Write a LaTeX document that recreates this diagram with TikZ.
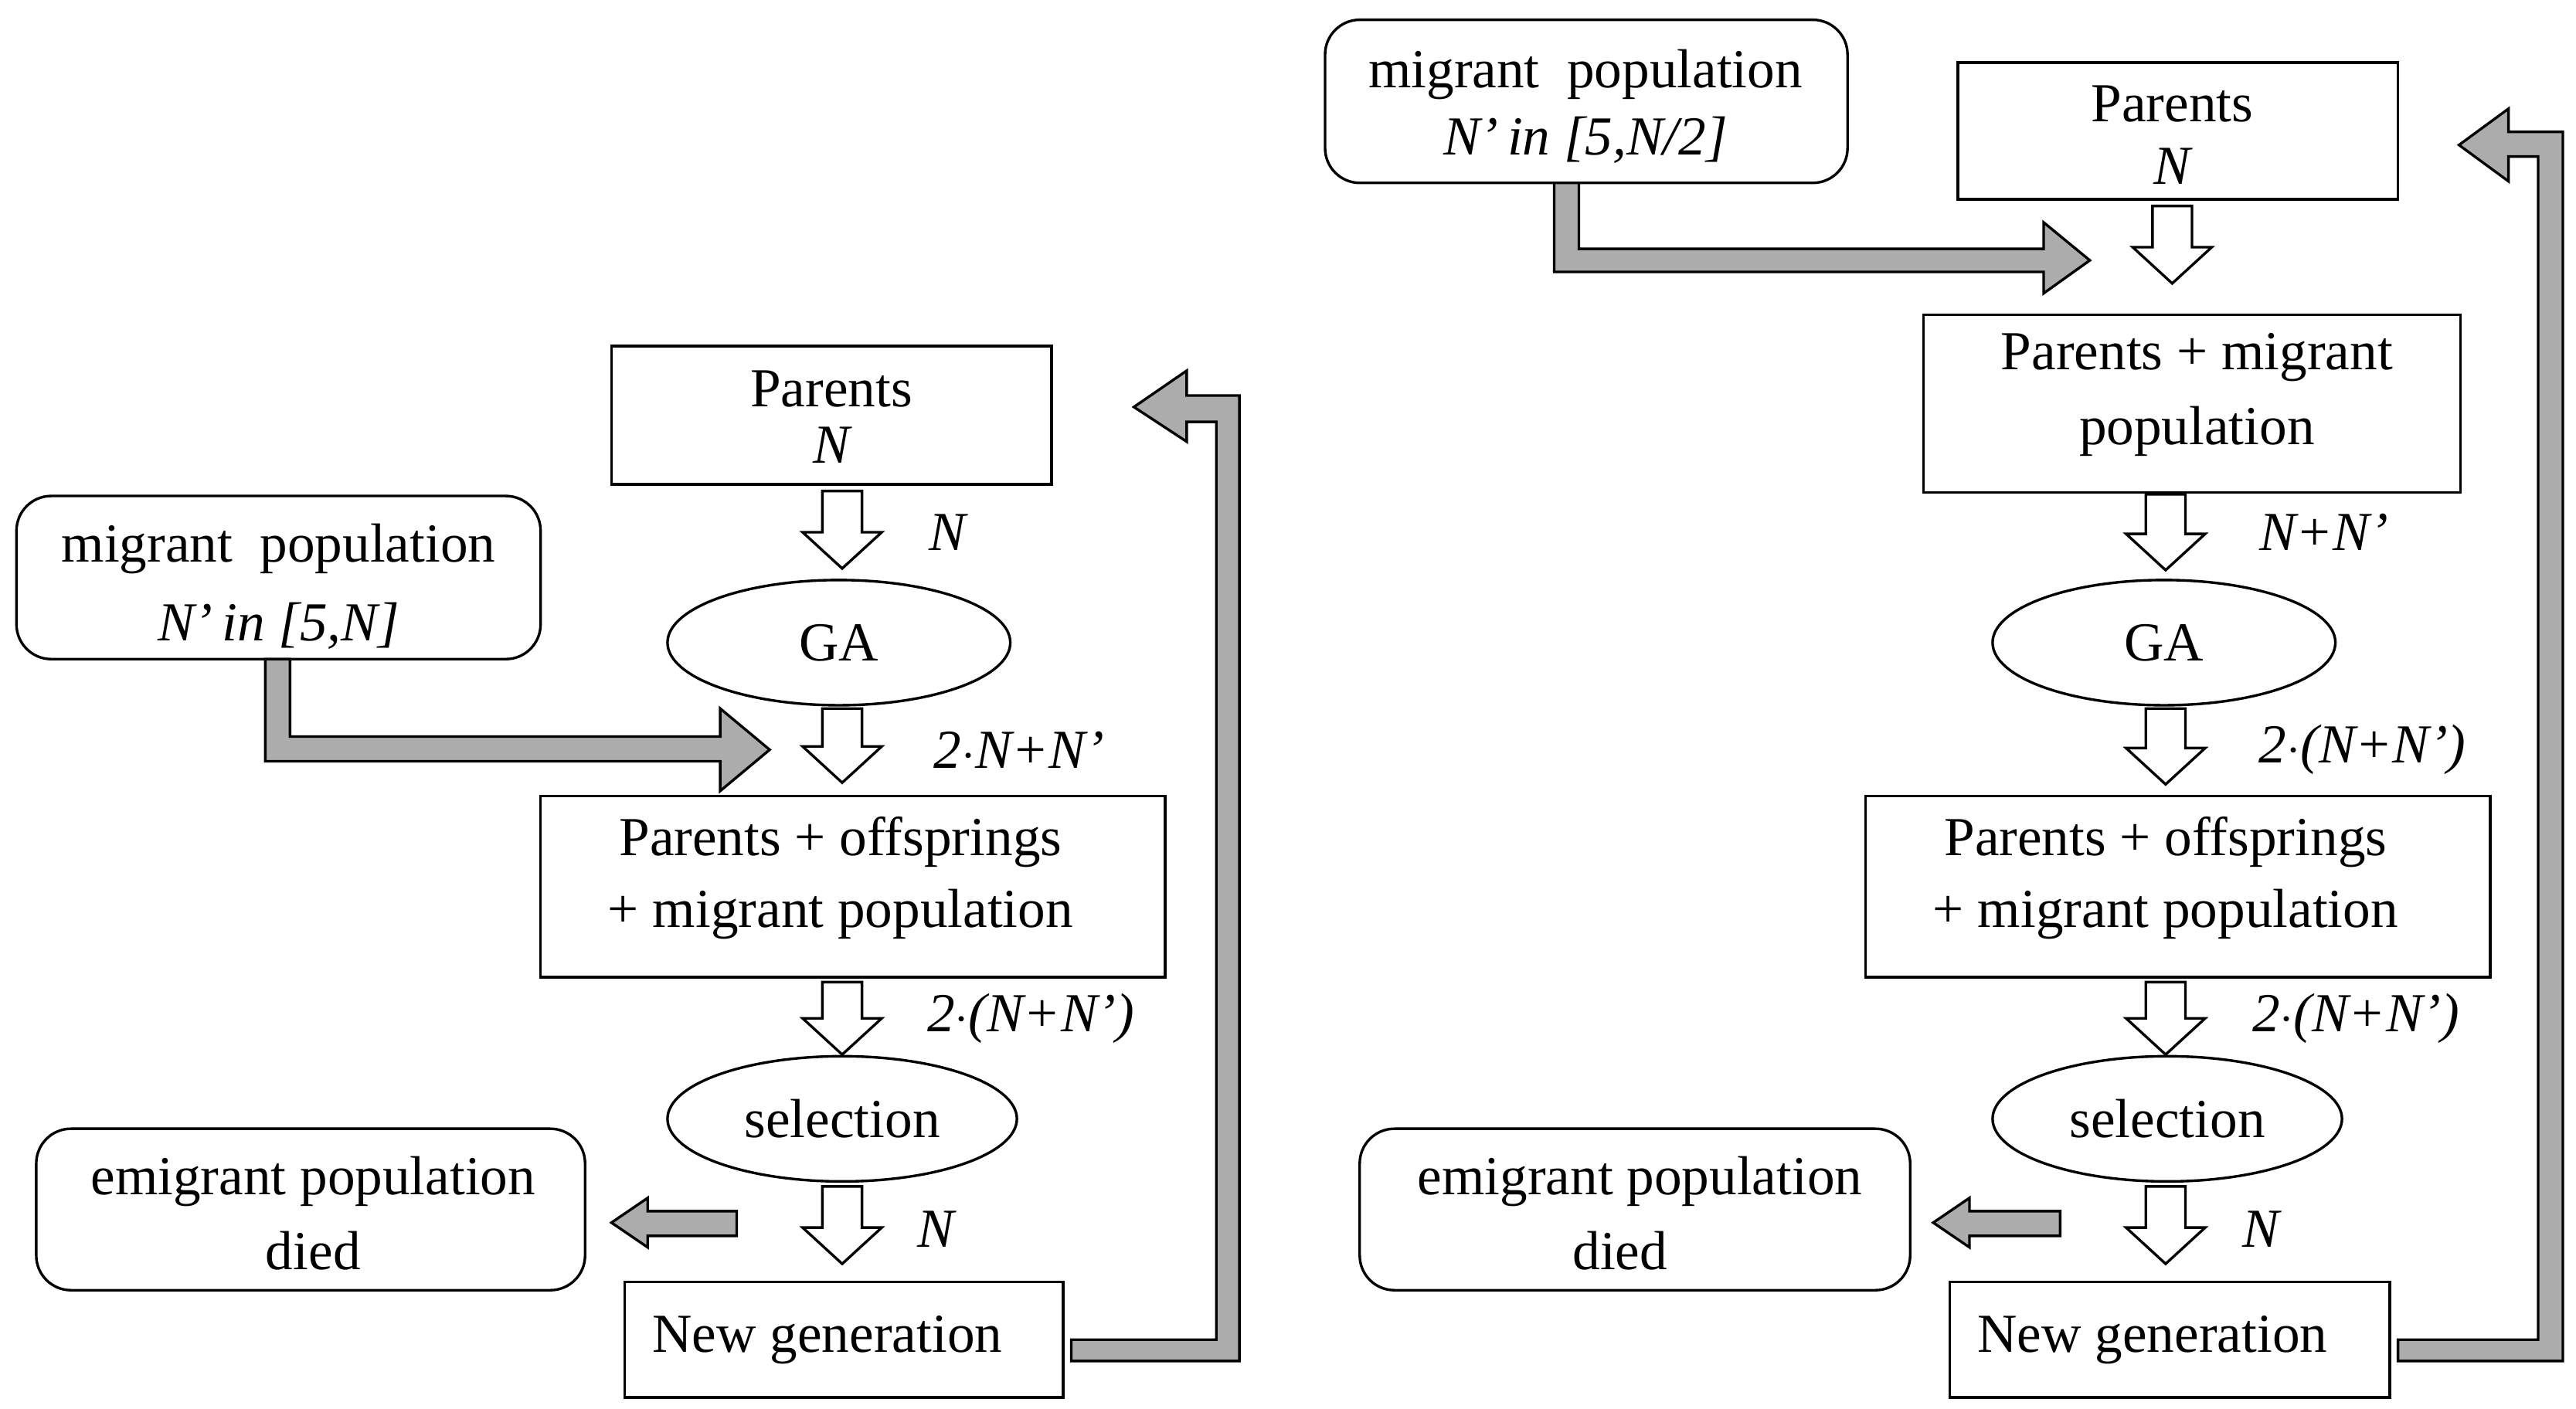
\documentclass[tikz,border=0pt]{standalone}
\usepackage{fontspec}
\setmainfont{Liberation Serif}
\usetikzlibrary{shapes.geometric}
\newcommand\hollowarrow[3]{\draw[harr] ({#1-12},#2)--({#1+12},#2)--({#1+12},{#3-22})--({#1+24},{#3-22})--(#1,#3)--({#1-24},{#3-22})--({#1-12},{#3-22})--cycle;}
\begin{document}
\begin{tikzpicture}[x=0.02cm,y=-0.02cm,line width=0.9pt,
 txt/.style={font=\fontsize{19}{25}\selectfont},
 box/.style={draw,txt,inner sep=0pt,align=center},
 rbox/.style={box,rounded corners=12pt},
 ell/.style={draw,ellipse,txt,minimum width=208\pgflinewidth,inner sep=0pt},
 lab/.style={txt,font=\fontsize{19}{25}\selectfont\itshape},
 harr/.style={fill=white,draw=black},
 garr/.style={fill=gray!65,draw=black}]
\useasboundingbox (0,0) rectangle (1563,855);
% ---------- left ----------
\draw (371,210) rectangle (638,294);
\node[txt] (pL) at (504.5,236) {Parents};
\node[lab] (pLn) at (504.5,270) {N};
\hollowarrow{511}{298}{345}
\node[lab] (l1) at (575,323) {N};
\draw (509,390) ellipse (104 and 38); \node[txt] (gaL) at (509,390) {GA};
\hollowarrow{511}{430}{475}
\node[lab,anchor=west] (l2) at (560,455) {2$\cdot$N+N'};
\draw[rounded corners=12pt] (10,301) rectangle (328,400);
\node[txt] (mL) at (169,333) {migrant\ \ population};
\node[lab] (mLn) at (169,380) {N'\,in [5,N]};
\draw[garr] (161,400)--(176,400)--(176,447)--(437,447)--(437,430)--(467,455)--(437,480)--(437,462)--(161,462)--cycle;
\draw (328,483) rectangle (707,593);
\node[txt] (bL1) at (510,511) {Parents + offsprings};
\node[txt] (bL2) at (510,555) {+ migrant population};
\hollowarrow{511}{596}{640}
\node[lab,anchor=west] (l3) at (556,618) {2$\cdot$(N+N')};
\draw (511,679) ellipse (106 and 38); \node[txt] (sL) at (511,679) {selection};
\hollowarrow{511}{720}{767}
\node[lab] (l4) at (568,746) {N};
\draw (379,778) rectangle (645,848);
\node[txt] (nL) at (502,813) {New generation};
\draw[rounded corners=12pt] (22,685) rectangle (355,783);
\node[txt] (eL) at (190,717) {emigrant\ population};
\node[txt] (eL2) at (190,759) {died};
\draw[garr] (447,735)--(393,735)--(393,727)--(371,742)--(393,757)--(393,750)--(447,750)--cycle;
\draw[garr] (650,813)--(738,813)--(738,256)--(720,256)--(720,268)--(688,247)--(720,225)--(720,240)--(752,240)--(752,826)--(650,826)--cycle;
% ---------- right ----------
\draw[rounded corners=12pt] (804,12) rectangle (1121,111);
\node[txt] (mR) at (962,45) {migrant\ \ population};
\node[lab] (mRn) at (962,85) {N'\,in [5,N/2]};
\draw (1188,38) rectangle (1455,121);
\node[txt] (pR) at (1318,63) {Parents};
\node[lab] (pRn) at (1318,101) {N};
\draw[garr] (943,111)--(958,111)--(958,151)--(1240,151)--(1240,135)--(1268,158)--(1240,178)--(1240,165)--(943,165)--cycle;
\hollowarrow{1318}{125}{172}
\draw (1167,191) rectangle (1493,299);
\node[txt] (bR0) at (1333,217) {Parents + migrant};
\node[txt] (bR0b) at (1333,262) {population};
\hollowarrow{1314}{300}{346}
\node[lab] (r1) at (1410,323) {N+N'};
\draw (1313,390) ellipse (104 and 38); \node[txt] (gaR) at (1313,390) {GA};
\hollowarrow{1314}{430}{476}
\node[lab,anchor=west] (r2) at (1364,455) {2$\cdot$(N+N')};
\draw (1132,483) rectangle (1511,593);
\node[txt] (bR1) at (1314,511) {Parents + offsprings};
\node[txt] (bR2) at (1314,555) {+ migrant population};
\hollowarrow{1314}{596}{640}
\node[lab,anchor=west] (r3) at (1360,618) {2$\cdot$(N+N')};
\draw (1315,679) ellipse (106 and 38); \node[txt] (sR) at (1315,679) {selection};
\hollowarrow{1314}{720}{767}
\node[lab] (r4) at (1372,746) {N};
\draw (1183,778) rectangle (1450,848);
\node[txt] (nR) at (1306,813) {New generation};
\draw[rounded corners=12pt] (825,685) rectangle (1159,783);
\node[txt] (eR) at (995,717) {emigrant\ population};
\node[txt] (eR2) at (983,759) {died};
\draw[garr] (1250,735)--(1195,735)--(1195,727)--(1173,742)--(1195,757)--(1195,750)--(1250,750)--cycle;
\draw[garr] (1455,813)--(1540,813)--(1540,95)--(1522,95)--(1522,110)--(1492,88)--(1522,66)--(1522,80)--(1555,80)--(1555,826)--(1455,826)--cycle;
\end{tikzpicture}
\end{document}
